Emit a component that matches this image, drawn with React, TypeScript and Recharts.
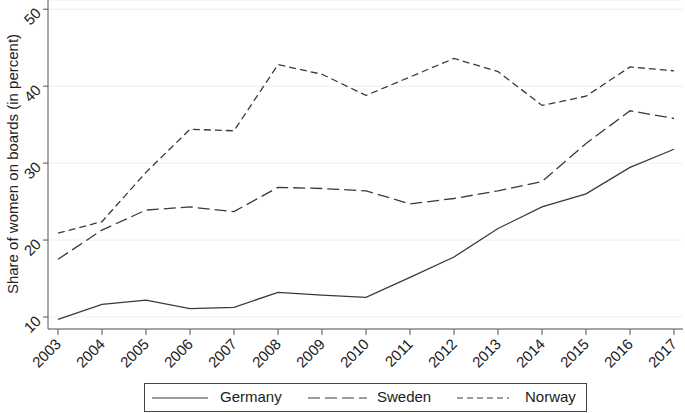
import React from "react";
import { LineChart, Line, XAxis, YAxis, CartesianGrid } from "recharts";

const years = ["2003", "2004", "2005", "2006", "2007", "2008", "2009", "2010", "2011", "2012", "2013", "2014", "2015", "2016", "2017"];
const germany = [9.7, 11.65, 12.2, 11.1, 11.25, 13.2, 12.85, 12.55, 15.15, 17.8, 21.5, 24.3, 26.0, 29.45, 31.8];
const sweden = [17.5, 21.3, 23.9, 24.3, 23.7, 26.85, 26.7, 26.4, 24.7, 25.4, 26.4, 27.6, 32.55, 36.8, 35.8];
const norway = [20.9, 22.4, 28.8, 34.4, 34.2, 42.8, 41.55, 38.8, 41.2, 43.6, 41.9, 37.5, 38.7, 42.5, 42.0];
const yTicks = [10, 20, 30, 40, 50];

const series = [
  { key: "Germany", dash: undefined, legendDash: undefined },
  { key: "Sweden", dash: "12 5", legendDash: "12 5" },
  { key: "Norway", dash: "7 4", legendDash: "6 4" },
];

const data = years.map((year, i) => ({
  year,
  Germany: germany[i],
  Sweden: sweden[i],
  Norway: norway[i],
}));

const FONT = "'Liberation Sans', Arial, Helvetica, sans-serif";
const INK = "#3a3a3a";
const FS = 15;

// legend item offsets inside the box (line start, line length, text start)
const legendPos = [
  { line: 7, len: 56, text: 75 },
  { line: 163, len: 59, text: 232 },
  { line: 312, len: 52, text: 380 },
];

const XTick = (props: any) => {
  const { x, y, payload } = props;
  const ax = x + 4;
  const ay = y + 8;
  return (
    <text x={ax} y={ay} textAnchor="end" fontSize={FS} fill="#222" fontFamily={FONT} transform={`rotate(-45, ${ax}, ${ay})`}>
      {payload.value}
    </text>
  );
};

const YTick = (props: any) => {
  const { x, y, payload } = props;
  const ax = x + 1;
  const ay = y + 5;
  return (
    <text x={ax} y={ay} textAnchor="end" fontSize={FS} fill="#222" fontFamily={FONT} transform={`rotate(-45, ${ax}, ${ay})`}>
      {payload.value}
    </text>
  );
};

const YLabel = () => (
  <text x={12} y={164} textAnchor="middle" dominantBaseline="central" fontSize={FS} fill="#222" fontFamily={FONT} transform="rotate(-90, 12, 164)">
    Share of women on boards (in percent)
  </text>
);

export default function App() {
  return (
    <div style={{ position: "absolute", left: 0, top: 0, width: 685, height: 413, background: "#fff", fontFamily: FONT }}>
      <LineChart width={685} height={413} data={data} margin={{ top: 0, right: 2, bottom: 0, left: 0 }}>
        <CartesianGrid horizontal vertical={false} stroke="#eeeeee" strokeWidth={1} />
        <XAxis
          dataKey="year"
          height={84}
          interval={0}
          padding={{ left: 10, right: 9 }}
          tickSize={6}
          tick={<XTick />}
          stroke="#555"
          tickLine={{ stroke: "#555" }}
        />
        <YAxis
          type="number"
          width={48}
          domain={[8.44, 51.2]}
          ticks={yTicks}
          allowDataOverflow
          tickSize={5}
          tick={<YTick />}
          stroke="#555"
          tickLine={{ stroke: "#555" }}
          label={<YLabel />}
        />
        {series.map((s) => (
          <Line
            key={s.key}
            dataKey={s.key}
            type="linear"
            stroke={INK}
            strokeWidth={1.3}
            strokeDasharray={s.dash}
            dot={false}
            activeDot={false}
            isAnimationActive={false}
          />
        ))}
      </LineChart>
      <div
        style={{
          position: "absolute",
          left: 144,
          top: 383,
          width: 441,
          height: 27,
          border: "1px solid #444",
          fontSize: FS,
          color: "#222",
        }}
      >
        {series.map((s, i) => (
          <React.Fragment key={s.key}>
            <svg width={legendPos[i].len} height={10} style={{ position: "absolute", left: legendPos[i].line, top: 9 }}>
              <line x1={0} y1={5} x2={legendPos[i].len} y2={5} stroke={INK} strokeWidth={1.2} strokeDasharray={s.legendDash} />
            </svg>
            <span style={{ position: "absolute", left: legendPos[i].text, top: 4, lineHeight: "18px" }}>{s.key}</span>
          </React.Fragment>
        ))}
      </div>
    </div>
  );
}
